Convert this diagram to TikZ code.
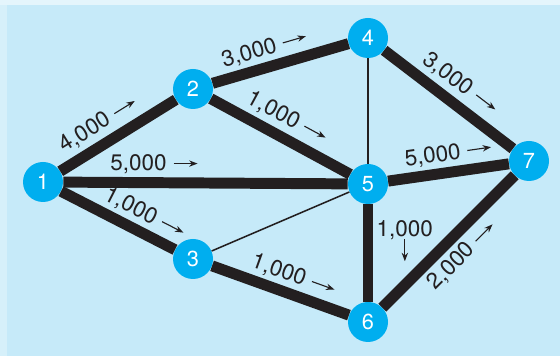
\documentclass[tikz,border=0pt]{standalone}
\usepackage{fontspec}
\setmainfont{TeX Gyre Heros}
\usetikzlibrary{arrows.meta}
\definecolor{panel}{HTML}{C6EAF9}
\definecolor{panelleft}{HTML}{D6F0FA}
\definecolor{paneltop}{HTML}{E4F5FC}
\definecolor{nodecyan}{HTML}{00AEEF}
\definecolor{ink}{HTML}{231F20}
\newcommand{\rarr}{\tikz[baseline=-0.6ex]\draw[ink,line width=0.8pt,-{Stealth[length=6pt,width=4.5pt]}] (0,0) -- (0.6,0);}
\newcommand{\darr}{\tikz\draw[ink,line width=0.8pt,-{Stealth[length=6pt,width=4.5pt]}] (0,0) -- (0,-0.55);}
\begin{document}
\begin{tikzpicture}
                    \tikzset{
                        vertex/.style={circle, fill=nodecyan, minimum size=1cm, inner sep=0pt, text=white, font=\fontsize{15.5}{16}\selectfont},
                        heavy/.style={ink, line width=7.8pt},
                        light/.style={ink, line width=1.1pt},
                        flow/.style={text=ink, font=\fontsize{16}{17}\selectfont, inner sep=1pt}
                    }
                    % background panel
                    \fill[paneltop] (0,0) rectangle (14,8.9);
                    \fill[panelleft] (0,0) rectangle (0.175,8.775);
                    \fill[panel] (0.175,0) rectangle (14,8.775);
                    \useasboundingbox (0,0) rectangle (14,8.9);

                    \draw node[vertex] (n1) at (1.075,4.35) {1};
                    \draw node[vertex] (n2) at (4.825,6.675) {2};
                    \draw node[vertex] (n3) at (4.825,2.425) {3};
                    \draw node[vertex] (n4) at (9.2,7.95) {4};
                    \draw node[vertex] (n5) at (9.2,4.3) {5};
                    \draw node[vertex] (n6) at (9.2,0.85) {6};
                    \draw node[vertex] (n7) at (13.225,4.875) {7};
                    \foreach \x/\y in {%
                        n1/n2, n1/n5, n1/n3, n2/n4, n2/n5, n4/n7, n5/n7, n3/n6, n5/n6, n6/n7%
                    }{
                    \draw[heavy] (\x) -- (\y);
                    }
                    \draw[light] (n4) -- (n5);
                    \draw[light] (n3) -- (n5);
                    \path (n1) -- node[flow, above=6pt, sloped, pos=0.42] {4,000 \rarr} (n2);
                    \path (n2) -- node[flow, above=5pt, sloped, pos=0.42] {3,000 \rarr} (n4);
                    \path (n2) -- node[flow, above=6pt, sloped, pos=0.48] {1,000 \rarr} (n5);
                    \path (n1) -- node[flow, above=5pt, pos=0.32] {5,000 \rarr} (n5);
                    \path (n1) -- node[flow, above=5pt, sloped, pos=0.66] {1,000 \rarr} (n3);
                    \path (n3) -- node[flow, above=5pt, sloped, pos=0.55] {1,000 \rarr} (n6);
                    \path (n4) -- node[flow, above=6pt, sloped, pos=0.5] {3,000 \rarr} (n7);
                    \path (n5) -- node[flow, above=5pt, sloped, pos=0.52] {5,000 \rarr} (n7);
                    \path (n5) -- node[flow, right=5pt, pos=0.38, align=center] {1,000\\[-2pt]\darr} (n6);
                    \path (n6) -- node[flow, below=6pt, sloped, pos=0.5] {2,000 \rarr} (n7);
                \end{tikzpicture}
\end{document}
